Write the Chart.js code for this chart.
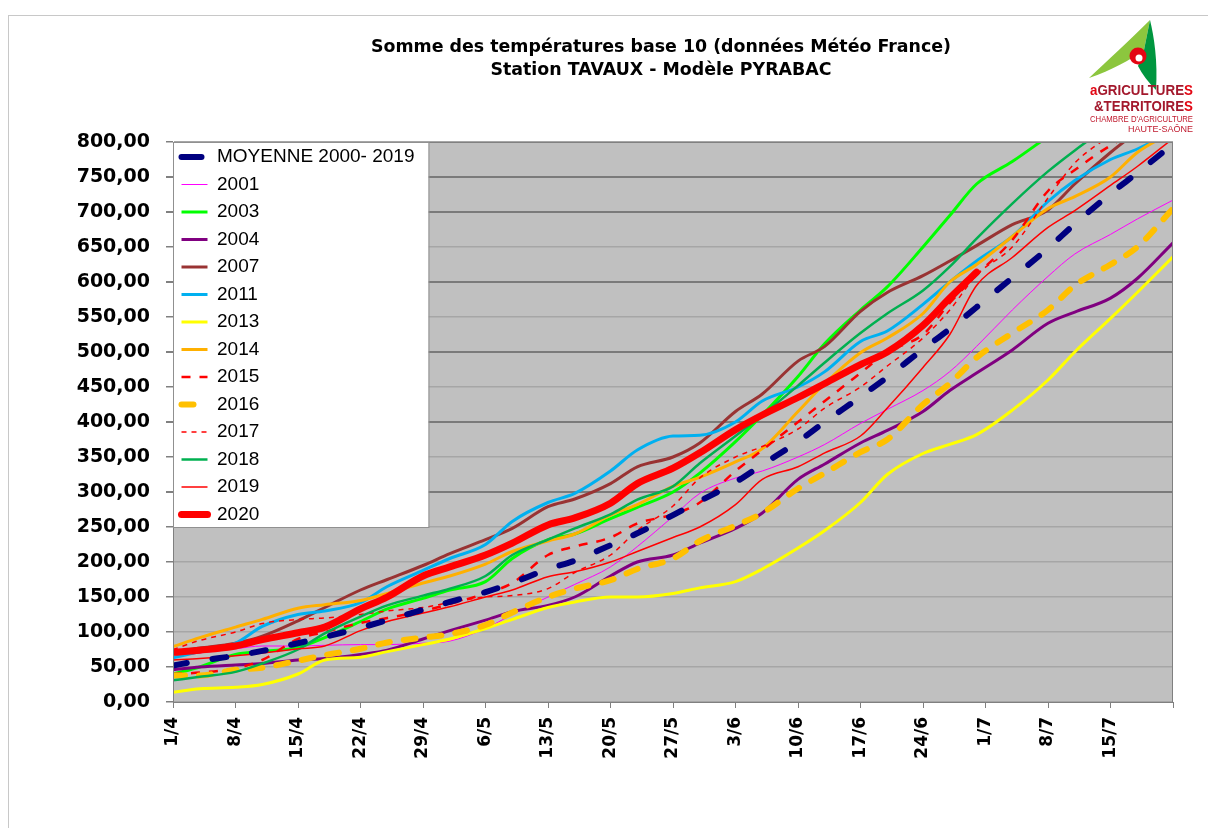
<!DOCTYPE html>
<html>
<head>
<meta charset="utf-8">
<script src="https://cdn.jsdelivr.net/npm/chart.js@4.4.1/dist/chart.umd.min.js"></script>
<style>
  body { margin: 0; background: #fff; }
  #wrap { position: relative; width: 1208px; height: 828px; overflow: hidden; }
  #frame { position: absolute; left: 8px; top: 15px; right: -2px; bottom: -2px; border-top: 1px solid #c8c8c8; border-left: 1px solid #c8c8c8; }
  #title { position: absolute; left: 0; top: 35px; width: 1322px; text-align: center; font: bold 17.4px 'DejaVu Sans'; line-height: 23px; color: #000; }
  #logo { position: absolute; left: 1086px; top: 16px; }
  canvas { position: absolute; left: 0; top: 0; }
</style>
</head>
<body>
<div id="wrap">
  <div id="frame"></div>
  <canvas id="chart" width="1208" height="828"></canvas>
  <div id="title">Somme des températures base 10 (données Météo France)<br>Station TAVAUX - Modèle PYRABAC</div>
  <svg id="logo" width="112" height="122" viewBox="0 0 112 122">
    <path d="M3,62 C22,44 42,26 64,4 L58,34 C44,44 26,54 3,62 Z" fill="#8cc63e"/>
    <path d="M64,4 C68,20 72,46 70,74 C62,66 56,58 52,50 L58,34 Z" fill="#00963f"/>
    <circle cx="52" cy="40" r="8.5" fill="#e30613"/>
    <circle cx="53" cy="42" r="3.5" fill="#fff"/>
    <text x="4" y="79" font-family="'Liberation Sans Narrow','Liberation Sans'" font-weight="bold" font-size="15" textLength="103" lengthAdjust="spacingAndGlyphs"><tspan fill="#e30613">a</tspan><tspan fill="#a3182c">GRICULTURE</tspan><tspan fill="#e30613">S</tspan></text>
    <text x="8" y="95" font-family="'Liberation Sans Narrow','Liberation Sans'" font-weight="bold" font-size="15" textLength="99" lengthAdjust="spacingAndGlyphs"><tspan fill="#a3182c">&amp;TERRITOIRE</tspan><tspan fill="#e30613">S</tspan></text>
    <text x="4" y="106" font-family="'Liberation Sans Narrow','Liberation Sans'" font-size="9" fill="#c0182c" textLength="103" lengthAdjust="spacingAndGlyphs">CHAMBRE D'AGRICULTURE</text>
    <text x="107" y="116" text-anchor="end" font-family="'Liberation Sans Narrow','Liberation Sans'" font-size="9" fill="#c0182c">HAUTE-SAÔNE</text>
  </svg>
</div>
<script>
// days counted from 1 April, read every 3-4 days off the picture
const days = [0, 3, 7, 10, 14, 17, 21, 24, 28, 31, 35, 38, 42, 45, 49, 52, 56, 59, 63, 66, 70, 73, 77, 80, 84, 87, 90, 94, 98, 101, 105, 108, 112];
const xLabels = ['1/4', '8/4', '15/4', '22/4', '29/4', '6/5', '13/5', '20/5', '27/5', '3/6', '10/6', '17/6', '24/6', '1/7', '8/7', '15/7'];
const yTicks = [0, 50, 100, 150, 200, 250, 300, 350, 400, 450, 500, 550, 600, 650, 700, 750, 800];

const moyenne = [52, 59, 66, 73, 84, 93, 106, 117, 132, 143, 157, 170, 190, 202, 224, 241, 267, 287, 314, 339, 372, 400, 436, 464, 504, 533, 564, 606, 648, 683, 726, 756, 797];
const y2001 = [65, 70, 76, 80, 80, 81, 82, 82, 84, 87, 105, 125, 150, 168, 193, 222, 265, 298, 320, 330, 350, 368, 398, 418, 445, 472, 508, 560, 608, 640, 668, 690, 717];
const y2003 = [40, 50, 68, 72, 78, 92, 115, 133, 148, 160, 172, 205, 232, 240, 262, 278, 300, 327, 372, 410, 465, 512, 560, 593, 650, 695, 740, 772, 808, null, null, null, null];
const y2004 = [46, 50, 53, 55, 60, 62, 68, 74, 90, 102, 117, 129, 138, 150, 180, 200, 210, 227, 248, 270, 318, 340, 370, 388, 415, 445, 470, 503, 541, 557, 577, 605, 656];
const y2007 = [72, 77, 84, 94, 116, 135, 160, 175, 195, 212, 232, 248, 279, 290, 312, 336, 350, 370, 415, 440, 487, 508, 558, 585, 609, 630, 652, 682, 703, 740, 785, 815, null];
const y2011 = [63, 72, 84, 108, 125, 130, 142, 165, 188, 205, 225, 258, 285, 298, 330, 360, 380, 381, 400, 430, 450, 472, 515, 530, 568, 600, 630, 665, 715, 745, 775, 790, 815];
const y2013 = [14, 19, 21, 25, 40, 60, 64, 72, 82, 90, 105, 118, 135, 143, 150, 150, 155, 163, 172, 190, 220, 245, 285, 325, 355, 368, 382, 417, 460, 500, 548, 585, 636];
const y2014 = [79, 92, 107, 118, 134, 139, 145, 155, 170, 180, 197, 215, 230, 240, 267, 282, 308, 321, 343, 362, 415, 455, 499, 520, 555, 600, 625, 665, 705, 722, 750, 785, 815];
const y2015 = [40, 42, 48, 60, 90, 100, 113, 120, 130, 140, 155, 170, 210, 222, 235, 255, 268, 285, 330, 360, 400, 430, 470, 500, 525, 570, 610, 660, 730, 760, 795, 815, null];
const y2016 = [38, 38, 46, 49, 59, 67, 76, 85, 92, 97, 110, 128, 150, 162, 174, 190, 205, 230, 252, 270, 305, 327, 357, 375, 425, 455, 492, 527, 560, 595, 625, 650, 705];
const y2017 = [75, 88, 100, 112, 118, 120, 125, 130, 135, 142, 150, 152, 162, 185, 210, 245, 280, 320, 350, 365, 390, 420, 450, 480, 520, 560, 610, 650, 720, 770, 810, null, null];
const y2018 = [31, 36, 43, 55, 75, 98, 122, 138, 152, 162, 180, 210, 232, 248, 268, 289, 308, 341, 380, 410, 452, 485, 527, 555, 588, 622, 662, 712, 758, 788, 825, null, null];
const y2019 = [60, 62, 66, 70, 76, 80, 102, 115, 127, 136, 150, 160, 179, 186, 200, 215, 235, 250, 282, 318, 336, 356, 380, 420, 478, 525, 595, 635, 678, 702, 738, 765, 805];
const y2020 = [71, 74, 80, 89, 99, 107, 133, 150, 180, 193, 210, 227, 253, 263, 284, 312, 334, 356, 389, 410, 435, 455, 482, 500, 538, 577, 614, null, null, null, null, null, null];

function pts(values) {
  const out = [];
  values.forEach((v, i) => { if (v !== null) out.push({ x: days[i], y: v }); });
  return out;
}

function series(label, values, color, width, dash, order, legendDash) {
  return {
    label: label,
    data: pts(values),
    borderColor: color,
    backgroundColor: 'rgba(0,0,0,0)',
    borderWidth: width,
    borderDash: dash || [],
    legendDash: legendDash || dash || [],
    borderCapStyle: width >= 5 ? 'round' : 'butt',
    borderJoinStyle: 'round',
    pointRadius: 0,
    pointHitRadius: 0,
    fill: false,
    cubicInterpolationMode: 'monotone',
    order: order
  };
}

const datasets = [
  series('MOYENNE 2000- 2019', moyenne, '#000080', 6, [14, 26], 1, [20, 30]),
  series('2001', y2001, '#ff00ff', 1, null, 14),
  series('2003', y2003, '#00ff00', 3, null, 13),
  series('2004', y2004, '#800080', 3, null, 12),
  series('2007', y2007, '#993333', 3, null, 11),
  series('2011', y2011, '#00b0f0', 3, null, 10),
  series('2013', y2013, '#ffff00', 3, null, 9),
  series('2014', y2014, '#ffb000', 3, null, 8),
  series('2015', y2015, '#ff0000', 2.5, [9, 9], 7),
  series('2016', y2016, '#ffc000', 6, [12, 14], 6),
  series('2017', y2017, '#ff0000', 1.5, [5, 5], 5),
  series('2018', y2018, '#00b050', 2.5, null, 4),
  series('2019', y2019, '#ff0000', 1.5, null, 3),
  series('2020', y2020, '#ff0000', 7, null, 0)
];

const darkLines = [300, 400, 500, 600, 700, 750];
const LEGEND_PAD = 8.5;
const LEGEND_SHIFT = -3;

const plotFrame = {
  id: 'plotFrame',
  afterLayout(chart) {
    // legend sits inside the plot, top left
    chart.legend.top = chart.chartArea.top + LEGEND_SHIFT;
  },
  beforeDraw(chart) {
    const a = chart.chartArea;
    const ctx = chart.ctx;
    ctx.save();
    ctx.fillStyle = '#c0c0c0';
    ctx.fillRect(a.left, a.top, a.right - a.left, a.bottom - a.top);
    ctx.restore();
  },
  afterDatasetsDraw(chart) {
    const a = chart.chartArea;
    const ctx = chart.ctx;
    ctx.save();
    ctx.strokeStyle = '#808080';
    ctx.lineWidth = 1;
    ctx.strokeRect(a.left + 0.5, a.top + 0.5, a.right - a.left - 1, a.bottom - a.top);
    // white legend box
    const hb = chart.legend.legendHitBoxes;
    let right = 0, top = Infinity, bottom = 0;
    hb.forEach(b => { right = Math.max(right, b.left + b.width); top = Math.min(top, b.top); bottom = Math.max(bottom, b.top + b.height); });
    const boxR = right + 14;
    const boxB = chart.legend.top + LEGEND_PAD + (bottom - top) + 3;
    ctx.fillStyle = '#ffffff';
    ctx.fillRect(a.left, a.top, boxR - a.left, boxB - a.top);
    ctx.strokeStyle = '#909090';
    ctx.strokeRect(a.left + 0.5, a.top + 0.5, boxR - a.left, boxB - a.top);
    ctx.restore();
    chart.legend.draw();
  }
};

const baseLabels = Chart.defaults.plugins.legend.labels.generateLabels;

new Chart(document.getElementById('chart'), {
  type: 'line',
  data: { datasets: datasets },
  options: {
    responsive: false,
    animation: false,
    devicePixelRatio: 1,
    layout: { padding: { top: 142, right: 35, left: 0, bottom: 0 } },
    plugins: {
      title: { display: false },
      tooltip: { enabled: false },
      legend: {
        position: 'chartArea',
        align: 'start',
        labels: {
          usePointStyle: true,
          pointStyle: 'line',
          pointStyleWidth: 26,
          boxHeight: 10,
          padding: LEGEND_PAD,
          color: '#000',
          font: { family: "'Liberation Sans', Arial", size: 19 },
          sort: (a, b) => a.datasetIndex - b.datasetIndex,
          generateLabels(chart) {
            const items = baseLabels(chart);
            items.forEach(it => {
              const ds = chart.data.datasets[it.datasetIndex];
              it.lineDash = ds.legendDash;
              it.lineWidth = ds.borderWidth;
              it.strokeStyle = ds.borderColor;
              it.lineCap = ds.borderCapStyle;
            });
            return items;
          }
        }
      }
    },
    scales: {
      x: {
        type: 'linear',
        min: 0,
        max: 112,
        afterFit(scale) { scale.height = 126; },
        afterBuildTicks(scale) { scale.ticks = xLabels.map((l, i) => ({ value: i * 7 })).concat([{ value: 112 }]); },
        ticks: {
          autoSkip: false,
          minRotation: 90,
          maxRotation: 90,
          padding: 9,
          color: '#000',
          font: { family: 'DejaVu Sans', weight: 'bold', size: 17 },
          callback: (v) => xLabels[Math.round(v / 7)] || ''
        },
        grid: { drawOnChartArea: false, tickLength: 6, color: '#808080', tickColor: '#808080' },
        border: { color: '#808080', width: 1 }
      },
      y: {
        min: 0,
        max: 800,
        afterFit(scale) { scale.width = 173; },
        afterBuildTicks(scale) { scale.ticks = yTicks.map(v => ({ value: v })); },
        ticks: {
          padding: 16,
          color: '#000',
          font: { family: 'DejaVu Sans', weight: 'bold', size: 19 },
          callback: (v) => v.toFixed(2).replace('.', ',')
        },
        grid: {
          tickLength: 7,
          tickColor: '#808080',
          color: (c) => darkLines.includes(c.tick.value) ? '#7a7a7a' : '#a6a6a6',
          lineWidth: (c) => darkLines.includes(c.tick.value) ? 2 : 1.5
        },
        border: { color: '#808080', width: 1 }
      }
    }
  },
  plugins: [plotFrame]
});
</script>
</body>
</html>
